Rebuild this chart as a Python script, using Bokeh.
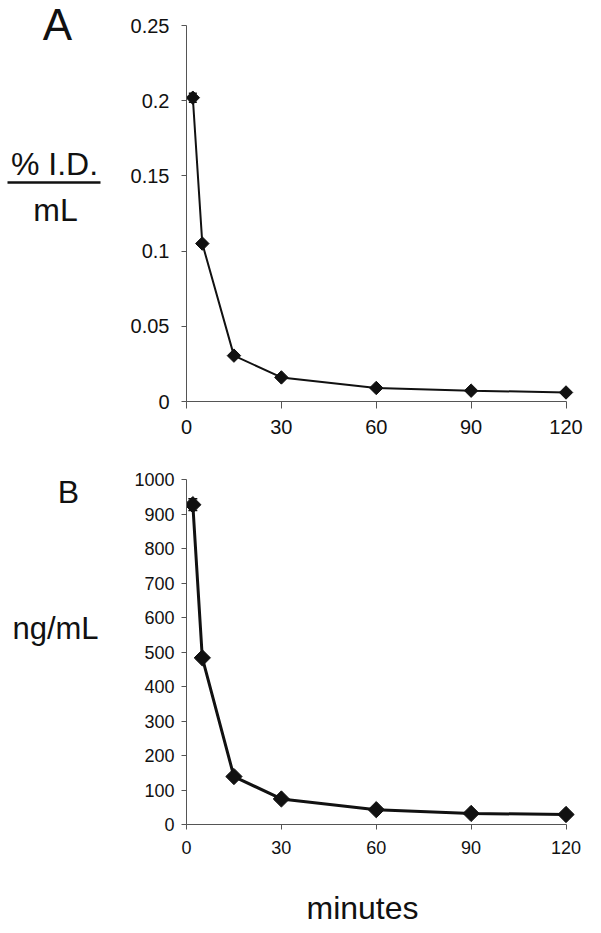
import numpy as np
from bokeh.plotting import figure
from bokeh.models import Whisker, ColumnDataSource, FixedTicker, Range1d, TeeHead
from bokeh.core.properties import value
from bokeh.layouts import column, row
from bokeh.embed import file_html
from bokeh.resources import INLINE

# ---------------- data ----------------
minutes = [2, 5, 15, 30, 60, 90, 120]
pct_id_per_ml = [0.202, 0.105, 0.0305, 0.016, 0.009, 0.0072, 0.006]
pct_id_err = [0.003, 0, 0, 0, 0, 0, 0]
ng_per_ml = [927, 483, 139, 74, 43, 32, 29]
ng_err = [17, 0, 0, 0, 0, 0, 0]

x_ticks = [0, 30, 60, 90, 120]
a_ticks = [0, 0.05, 0.1, 0.15, 0.2, 0.25]
a_tick_labels = ["0", "0.05", "0.1", "0.15", "0.2", "0.25"]
b_ticks = [0, 100, 200, 300, 400, 500, 600, 700, 800, 900, 1000]
b_tick_labels = [str(v) for v in b_ticks]

FONT = "Liberation Sans"
INK = "#111111"
AXIS = "#555555"

LEFT_W = 120      # width of the left label strip
PLOT_W = 481      # width of each plot figure
BOTTOM_H = 62     # height of the strip holding "minutes"


def make_panel(height, top_px, frame, ymax, yticks, ylabels, ys, errs,
               tick_font, tick_out_x, tick_out_y, y_standoff, x_standoff,
               line_w, marker_size, cap):
    # frame: page px of x=0, x=120, y=ymax, y=0
    fl, fr, ft, fb = frame
    px_per_x = (fr - fl) / 120.0
    xr_max = 123.0
    frame_right_px = fl + xr_max * px_per_x
    p = figure(width=PLOT_W, height=height, output_backend="svg", toolbar_location=None,
               x_range=Range1d(0, xr_max), y_range=Range1d(0, ymax),
               min_border_left=int(round(fl - LEFT_W)),
               min_border_right=int(round(LEFT_W + PLOT_W - frame_right_px)),
               min_border_top=int(round(ft - top_px)),
               min_border_bottom=int(round(top_px + height - fb)))
    p.outline_line_color = None
    p.xgrid.grid_line_color = None
    p.ygrid.grid_line_color = None

    p.xaxis.ticker = FixedTicker(ticks=x_ticks)
    p.xaxis.bounds = (0, 120)
    p.yaxis.ticker = FixedTicker(ticks=yticks)
    p.yaxis.major_label_overrides = {t: l for t, l in zip(yticks, ylabels)}
    for ax, tout, so in ((p.xaxis, tick_out_x, x_standoff), (p.yaxis, tick_out_y, y_standoff)):
        ax.axis_line_color = AXIS
        ax.axis_line_width = 1
        ax.major_tick_line_color = AXIS
        ax.major_tick_in = 0
        ax.major_tick_out = tout
        ax.minor_tick_line_color = None
        ax.major_label_text_font = FONT
        ax.major_label_text_font_size = f"{tick_font}px"
        ax.major_label_text_color = INK
        ax.major_label_standoff = so

    p.line(minutes, ys, line_color=INK, line_width=line_w)
    p.scatter(minutes, ys, marker="square", angle=np.pi / 4, size=marker_size,
              fill_color=INK, line_color=INK)

    ex = [m for m, e in zip(minutes, errs) if e > 0]
    ey = [y for y, e in zip(ys, errs) if e > 0]
    ee = [e for e in errs if e > 0]
    src = ColumnDataSource(dict(x=ex, upper=[y + e for y, e in zip(ey, ee)],
                                lower=[y - e for y, e in zip(ey, ee)]))
    p.add_layout(Whisker(base="x", upper="upper", lower="lower", source=src,
                         dimension="height", line_color=INK, line_width=1.5,
                         upper_head=TeeHead(size=cap, line_color=INK, line_width=1.5),
                         lower_head=TeeHead(size=cap, line_color=INK, line_width=1.5)))
    return p


def text_strip(width, height):
    s = figure(width=width, height=height, output_backend="svg", toolbar_location=None,
               x_range=Range1d(0, width), y_range=Range1d(height, 0),
               x_axis_location=None, y_axis_location=None,
               min_border_left=0, min_border_right=0, min_border_top=0, min_border_bottom=0)
    s.outline_line_color = None
    s.xgrid.grid_line_color = None
    s.ygrid.grid_line_color = None
    return s


def put_text(s, txt, cx, base, size):
    # empirical correction: rendered baseline sits ~0.41 em below the anchor
    s.text(x=[cx], y=[base - 0.41 * size], text=[txt], text_font=value(FONT),
           text_font_size=value(f"{size}px"), text_color=INK,
           text_align="center", text_baseline="alphabetic")


# ---------------- panels ----------------
A_H = 448
B_H = 422
pa = make_panel(A_H, 0, (186, 566, 25, 401), 0.25, a_ticks, a_tick_labels,
                pct_id_per_ml, pct_id_err, 20, 7, 5, 12, 11, 2, 9.5, 8)
pb = make_panel(B_H, A_H, (186, 576, 479, 824), 1000, b_ticks, b_tick_labels,
                ng_per_ml, ng_err, 18, 5, 5, 7, 11, 3, 11.5, 9)

# ---------------- left label strip ----------------
left = text_strip(LEFT_W, A_H + B_H)
put_text(left, "A", 57, 42, 44)
put_text(left, "% I.D.", 54, 177, 32)
left.segment(x0=[7], y0=[182], x1=[100], y1=[182], line_color=INK, line_width=2.5)
put_text(left, "mL", 55, 223, 32)
put_text(left, "B", 68, 505, 32)
put_text(left, "ng/mL", 55, 641, 31)

# ---------------- bottom strip ----------------
bottom = text_strip(LEFT_W + PLOT_W, BOTTOM_H)
put_text(bottom, "minutes", 362, 921 - (A_H + B_H), 32)

layout = column(row(left, column(pa, pb, spacing=0), spacing=0), bottom, spacing=0)
open("out.html", "w").write(file_html(layout, INLINE))
